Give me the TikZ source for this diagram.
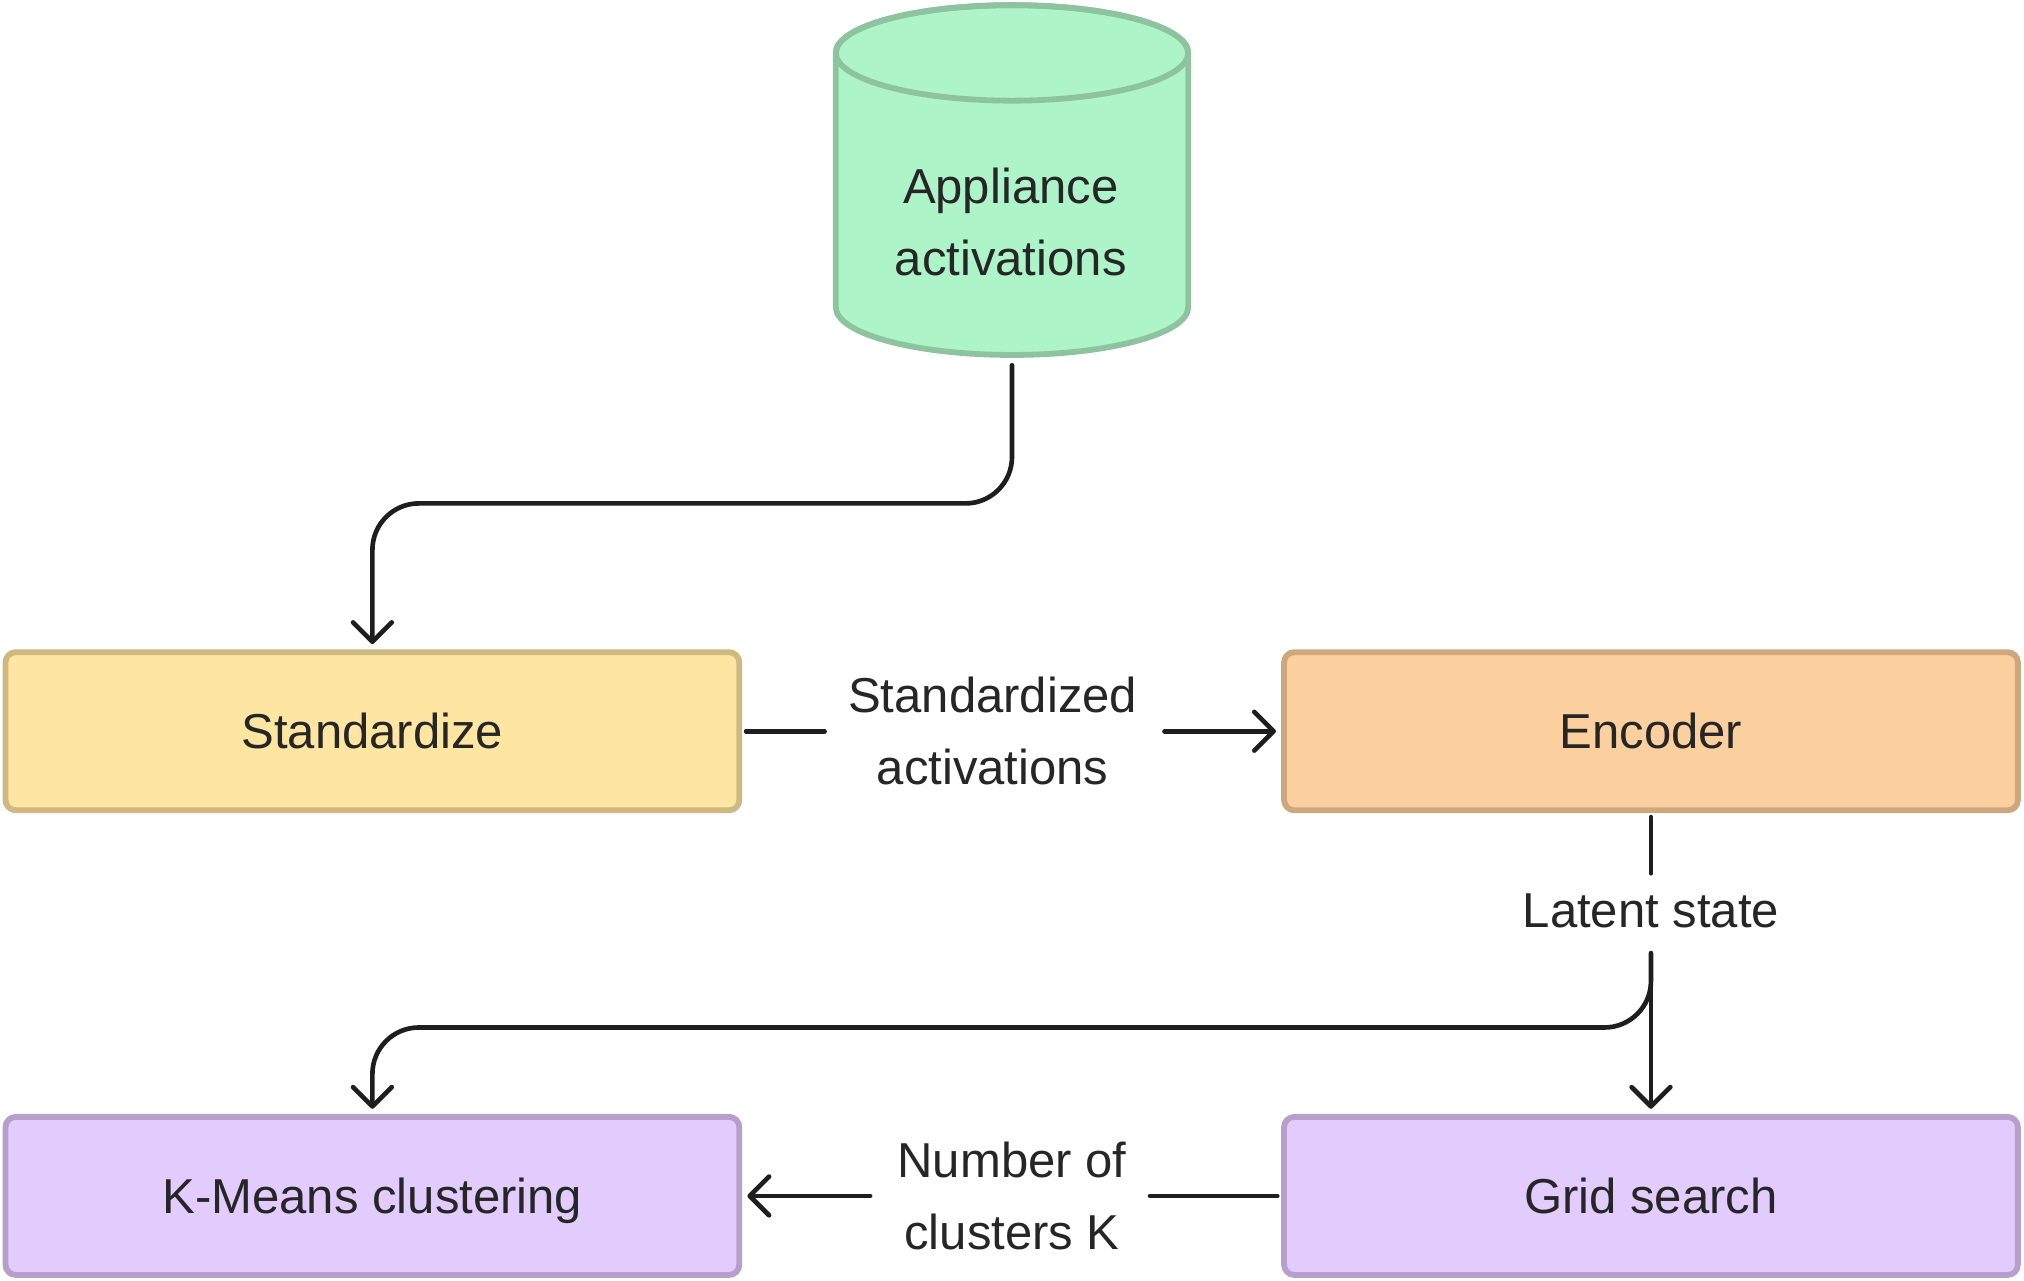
\documentclass[tikz,border=0pt]{standalone}
\usepackage{fontspec}
\setmainfont{Liberation Sans}
\usetikzlibrary{arrows.meta}
\definecolor{greenfill}{HTML}{AEF4C9}
\definecolor{greenline}{HTML}{8DC39F}
\definecolor{yelfill}{HTML}{FEE6A2}
\definecolor{yelline}{HTML}{CFB982}
\definecolor{orafill}{HTML}{FBD09E}
\definecolor{oraline}{HTML}{CFA77D}
\definecolor{purfill}{HTML}{E2CBFD}
\definecolor{purline}{HTML}{B6A0CB}
\definecolor{txt}{HTML}{262626}
\definecolor{edge}{HTML}{1E1E1E}
\tikzset{
  box/.style={rectangle, rounded corners=8pt, line width=4.5pt, minimum width=568.5pt, minimum height=122.5pt, inner sep=0pt, text height=32pt, text depth=5pt, text=txt, font=\fontsize{38}{56}\selectfont},
  lbl/.style={rectangle, inner xsep=18pt, inner ysep=16pt, align=center, text=txt, font=\fontsize{38}{56}\selectfont},
  conn/.style={draw=edge, line width=3.6pt, line cap=round, shorten <=3pt},
  arr/.style={conn, -{Straight Barb[length=15pt,width=30pt,round]}, shorten >=4pt},
}
\begin{document}
\begin{tikzpicture}[x=1pt,y=1pt]
\useasboundingbox (0,0) rectangle (1568,992);
% cylinder
\path[fill=greenfill, draw=greenline, line width=4.5pt] (647.5,951) -- (647.5,754) arc[start angle=180, end angle=360, x radius=136.5pt, y radius=37pt] -- (920.5,951) arc[start angle=0, end angle=180, x radius=136.5pt, y radius=37pt] -- cycle;
\draw[greenline, line width=4.5pt] (784,951) ellipse[x radius=136.5pt, y radius=37pt];
\node[lbl, inner sep=0pt] (db) at (783,820) {Appliance\\activations};
\coordinate (dbbot) at (784,712);
% boxes
\node[box, fill=yelfill, draw=yelline] (std) at (288.5,425.5) {Standardize};
\node[box, fill=orafill, draw=oraline] (enc) at (1279,425.5) {Encoder};
\node[box, fill=purfill, draw=purline] (km) at (288.5,65.5) {K-Means clustering};
\node[box, fill=purfill, draw=purline] (grid) at (1279,65.5) {Grid search};
% labels
\node[lbl] (l1) at (769,425.5) {Standardized\\activations};
\node[lbl] (l2) at (1279,286) {Latent state};
\node[lbl] (l3) at (784,65.5) {Number of\\clusters K};
% connectors
\draw[arr, rounded corners=36pt] (dbbot) -- (784,602) -- (288.5,602) -- (std.north);
\draw[conn] (std.east) -- (l1.west);
\draw[arr] (l1.east) -- (enc.west);
\draw[conn] (enc.south) -- (l2.north);
\draw[arr] (l2.south) -- (grid.north);
\draw[arr, rounded corners=36pt] (l2.south) -- (1279,196) -- (288.5,196) -- (km.north);
\draw[conn] (grid.west) -- (l3.east);
\draw[arr] (l3.west) -- (km.east);
\end{tikzpicture}
\end{document}
